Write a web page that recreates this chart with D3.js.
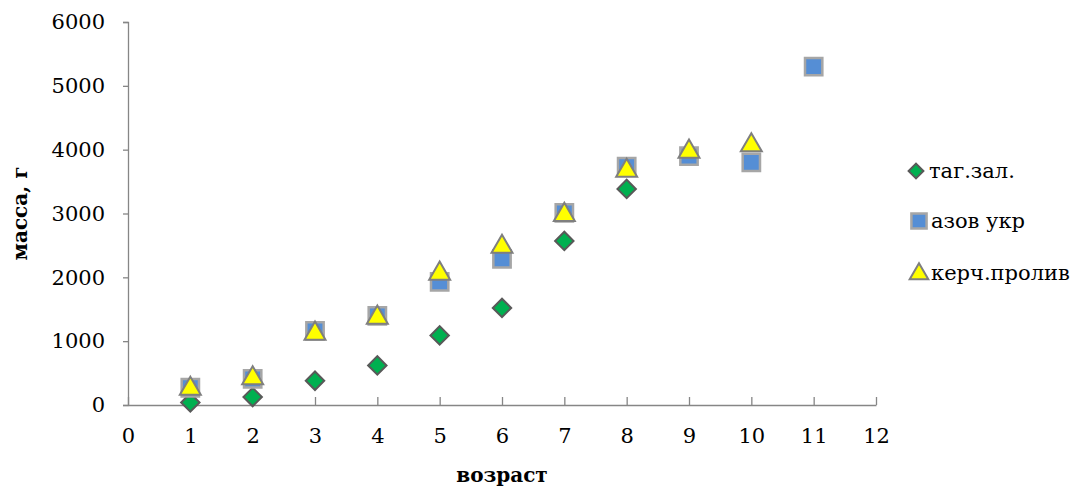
<!DOCTYPE html>
<html>
<head>
<meta charset="utf-8">
<script src="https://cdn.jsdelivr.net/npm/d3@7"></script>
<style>
  body { margin: 0; background: #fff; }
  text { font-family: "DejaVu Serif", serif; fill: #000; }
</style>
</head>
<body>
<div id="chart"></div>
<script>
// data
var ages = [1, 2, 3, 4, 5, 6, 7, 8, 9, 10, 11];
var tagZal = [40, 125, 380, 620, 1090, 1520, 2570, 3385];
var azovUkr = [270, 410, 1160, 1395, 1930, 2290, 3010, 3735, 3900, 3800, 5300];
var kerch = [285, 450, 1150, 1400, 2090, 2510, 3010, 3700, 4000, 4100];
var seriesNames = ["таг.зал.", "азов укр", "керч.пролив"];
var xTicks = d3.range(0, 13);
var yTicks = [0, 1000, 2000, 3000, 4000, 5000, 6000];

var width = 1075, height = 490;
var margin = { left: 128, right: 199, top: 22, bottom: 85 };

var svg = d3.select("#chart").append("svg")
  .attr("width", width)
  .attr("height", height);

var x = d3.scaleLinear().domain([0, 12]).range([margin.left, width - margin.right]);
var y = d3.scaleLinear().domain([0, 6000]).range([height - margin.bottom, margin.top]);

var axisColor = "#868686";

// y axis, ticks outward
var gy = svg.append("g")
  .attr("transform", "translate(" + margin.left + ",0)")
  .call(d3.axisLeft(y).tickValues(yTicks).tickFormat(d3.format("d"))
    .tickSize(5).tickPadding(18).tickSizeOuter(5));
gy.selectAll("path, line").attr("stroke", axisColor).attr("stroke-width", 1.3);
gy.selectAll("text").style("font-size", "21px").style("font-family", "DejaVu Serif");

// x axis, ticks inward
var gx = svg.append("g")
  .attr("transform", "translate(0," + y(0) + ")")
  .call(d3.axisBottom(x).tickValues(xTicks).tickSize(-8).tickPadding(23).tickSizeOuter(0));
gx.selectAll("path, line").attr("stroke", axisColor).attr("stroke-width", 1.3);
gx.selectAll("text").style("font-size", "21px").style("font-family", "DejaVu Serif");

// axis titles
svg.append("text")
  .attr("x", (margin.left + width - margin.right) / 2)
  .attr("y", 482)
  .attr("text-anchor", "middle")
  .style("font-size", "20px")
  .style("font-weight", "bold")
  .text("возраст");

svg.append("text")
  .attr("transform", "translate(27," + y(3000) + ") rotate(-90)")
  .attr("text-anchor", "middle")
  .style("font-size", "20px")
  .style("font-weight", "bold")
  .text("масса, г");

var diamond = d3.symbol().type(d3.symbolSquare).size(170);
var square = d3.symbol().type(d3.symbolSquare).size(300);
var triangle = d3.symbol().type(d3.symbolTriangle).size(190);

// series 1 - green diamonds
svg.append("g").selectAll("path")
  .data(tagZal)
  .enter().append("path")
  .attr("d", diamond)
  .attr("transform", (d, i) => "translate(" + x(ages[i]) + "," + y(d) + ") rotate(45)")
  .attr("fill", "#00b050")
  .attr("stroke", "#595959")
  .attr("stroke-width", 2);

// series 2 - blue squares
svg.append("g").selectAll("path")
  .data(azovUkr)
  .enter().append("path")
  .attr("d", square)
  .attr("transform", (d, i) => "translate(" + x(ages[i]) + "," + y(d) + ")")
  .attr("fill", "#558ed5")
  .attr("stroke", "#a6a6a6")
  .attr("stroke-width", 2.5);

// series 3 - yellow triangles
svg.append("g").selectAll("path")
  .data(kerch)
  .enter().append("path")
  .attr("d", triangle)
  .attr("transform", (d, i) => "translate(" + x(ages[i]) + "," + (y(d) + 2) + ")")
  .attr("fill", "#ffff00")
  .attr("stroke", "#7f7f7f")
  .attr("stroke-width", 2);

// legend
var legend = svg.append("g").attr("transform", "translate(916,0)");
var legendY = [171, 221, 273];

legend.append("path").attr("d", d3.symbol().type(d3.symbolSquare).size(110))
  .attr("transform", "translate(0," + legendY[0] + ") rotate(45)")
  .attr("fill", "#00b050").attr("stroke", "#595959").attr("stroke-width", 2);
legend.append("path").attr("d", d3.symbol().type(d3.symbolSquare).size(230))
  .attr("transform", "translate(3," + legendY[1] + ")")
  .attr("fill", "#558ed5").attr("stroke", "#a6a6a6").attr("stroke-width", 2.5);
legend.append("path").attr("d", d3.symbol().type(d3.symbolTriangle).size(150))
  .attr("transform", "translate(3," + (legendY[2] + 1) + ")")
  .attr("fill", "#ffff00").attr("stroke", "#7f7f7f").attr("stroke-width", 2);

legend.selectAll("text.lab")
  .data(seriesNames)
  .enter().append("text")
  .attr("class", "lab")
  .attr("x", (d, i) => i == 0 ? 13 : 15)
  .attr("y", (d, i) => legendY[i] + 7)
  .style("font-size", "21px")
  .text(d => d);
</script>
</body>
</html>
